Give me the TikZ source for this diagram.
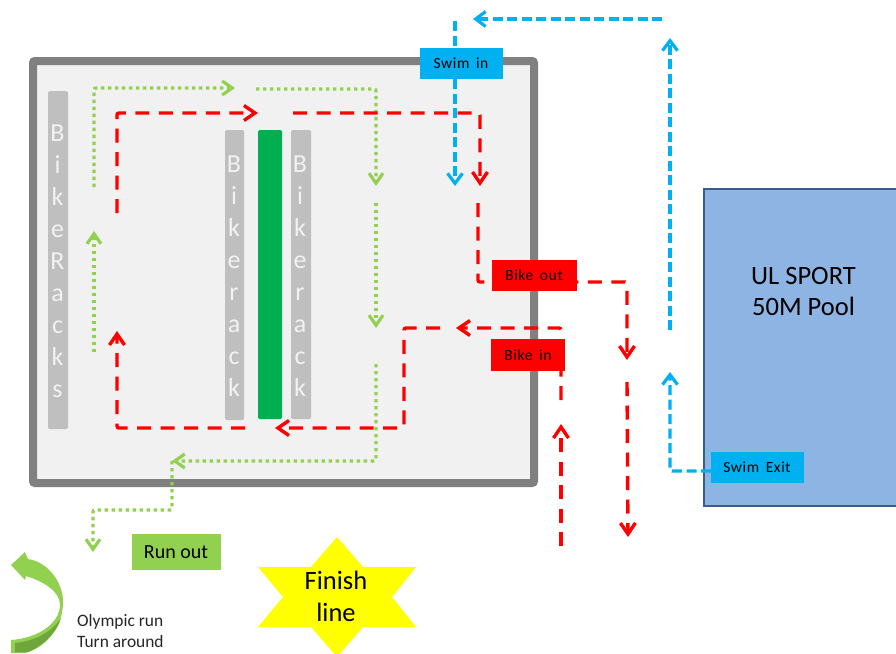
\documentclass[tikz,border=0pt]{standalone}
\usepackage{fontspec}
\setmainfont{Carlito}
\newfontfamily\lblf[LetterSpace=4,WordSpace=1.6]{Carlito}
\usetikzlibrary{arrows.meta}
\definecolor{lgreen}{HTML}{92D050}
\definecolor{dgreen}{HTML}{00B050}
\definecolor{sblue}{HTML}{00B0F0}
\definecolor{pool}{HTML}{8EB4E3}
\definecolor{poolb}{HTML}{385D8A}
\definecolor{rackc}{HTML}{BFBFBF}
\definecolor{arrowdark}{HTML}{6FA63C}
\definecolor{pyellow}{HTML}{FFFF00}
\definecolor{pred}{HTML}{FF0000}
\definecolor{inktext}{HTML}{262626}
\tikzset{
  x=1pt,y=-1pt,
  lbl/.style={inner sep=0pt,minimum height=31pt,anchor=center,text=black,align=center},
  smalllbl/.style={lbl,font=\lblf\fontsize{15.5}{17}\selectfont},
  rack/.style={fill=rackc,rounded corners=1.5pt},
  racktext/.style={text=white!95!black,font=\fontsize{26}{32}\selectfont,align=center,inner sep=0pt},
  gpath/.style={draw=lgreen,line width=3.4pt,dash pattern=on 3.4pt off 3.6pt,-{Straight Barb[length=10pt,width=14pt,line width=3.2pt]},rounded corners=2pt},
  rpath/.style={draw=pred,line width=3.4pt,dash pattern=on 14pt off 9.5pt,-{Straight Barb[length=11pt,width=15pt,line width=3.4pt]},rounded corners=2pt},
  bpath/.style={draw=sblue,line width=3.4pt,dash pattern=on 10pt off 4.5pt,-{Straight Barb[length=10pt,width=15pt,line width=3.2pt]},rounded corners=2pt},
}
\begin{document}
\begin{tikzpicture}
\useasboundingbox (0,0) rectangle (896,653);
\fill[white] (0,0) rectangle (896,653);
% enclosure
\draw[fill=black!5.5,line width=8pt,rounded corners=2pt,draw=black!50] (33,61) rectangle (534,483);
% racks
\fill[rack] (48,91) rectangle (68,429);
\fill[rack] (225,130) rectangle (244,420);
\fill[dgreen,rounded corners=1.5pt] (258,130) rectangle (282,419);
\fill[rack] (291,130) rectangle (311,419);
\node[racktext] (r1) at (57.5,261) {B\\i\\k\\e\\R\\a\\c\\k\\s};
\node[racktext] (r2) at (234,276) {B\\i\\k\\e\\r\\a\\c\\k};
\node[racktext] (r3) at (300,276) {B\\i\\k\\e\\r\\a\\c\\k};
% pool
\node[draw=poolb,fill=pool,line width=2pt,minimum width=194pt,minimum height=317pt,inner sep=0pt] (poolbox) at (801,347) {};
\node[font=\fontsize{26.5}{31}\selectfont,align=center,inner sep=0pt] (pooltxt) at (803.5,291) {UL SPORT\\50M Pool};
% coordinates
\coordinate (g1) at (94,352); \coordinate (g1e) at (94,231);
\coordinate (g2) at (94,187); \coordinate (g2a) at (94,88); \coordinate (g2e) at (235,88);
\coordinate (g3) at (256,89); \coordinate (g3a) at (376,89); \coordinate (g3e) at (376,186);
\coordinate (g4) at (376,203); \coordinate (g4e) at (376,328);
\coordinate (g5) at (376,364); \coordinate (g5a) at (376,461); \coordinate (g5e) at (172,461);
\coordinate (g6a) at (172,510); \coordinate (g6b) at (93,510); \coordinate (g6e) at (93,552);
\coordinate (r1s) at (117,213); \coordinate (r1a) at (117,113); \coordinate (r1e) at (258,113);
\coordinate (r2s) at (293,113); \coordinate (r2a) at (480,113); \coordinate (r2e) at (480,186);
\coordinate (r3s) at (478,203); \coordinate (r3a) at (478,282); \coordinate (r3b) at (627,282); \coordinate (r3e) at (627,360);
\coordinate (r4s) at (627,382); \coordinate (r4e) at (628,537);
\coordinate (r5s) at (561,546); \coordinate (r5e) at (561,424);
\coordinate (r6s) at (561,400); \coordinate (r6a) at (561,328); \coordinate (r6e) at (456,328);
\coordinate (r7s) at (440,328); \coordinate (r7a) at (404,328); \coordinate (r7b) at (404,428); \coordinate (r7e) at (275,428);
\coordinate (r8s) at (245,428); \coordinate (r8a) at (117,428); \coordinate (r8e) at (117,331);
\coordinate (b1s) at (662,19); \coordinate (b1e) at (473,19);
\coordinate (b2s) at (455,21); \coordinate (b2e) at (455,186);
\coordinate (b3s) at (670,330); \coordinate (b3e) at (670,38);
\coordinate (b4s) at (711,471); \coordinate (b4a) at (670,471); \coordinate (b4e) at (670,372);
% connectors
\draw[gpath] (g1) -- (g1e);
\draw[gpath] (g2) -- (g2a) -- (g2e);
\draw[gpath] (g3) -- (g3a) -- (g3e);
\draw[gpath] (g4) -- (g4e);
\draw[gpath] (g5) -- (g5a) -- (g5e);
\draw[gpath] (g5e) -- (g6a) -- (g6b) -- (g6e);
\draw[rpath] (r1s) -- (r1a) -- (r1e);
\draw[rpath] (r2s) -- (r2a) -- (r2e);
\draw[rpath] (r3s) -- (r3a) -- (r3b) -- (r3e);
\draw[rpath] (r4s) -- (r4e);
\draw[rpath] (r5s) -- (r5e);
\draw[rpath] (r6s) -- (r6a) -- (r6e);
\draw[rpath] (r7s) -- (r7a) -- (r7b) -- (r7e);
\draw[rpath] (r8s) -- (r8a) -- (r8e);
\draw[bpath] (b1s) -- (b1e);
\draw[bpath] (b2s) -- (b2e);
\draw[bpath] (b3s) -- (b3e);
\draw[bpath] (b4s) -- (b4a) -- (b4e);
% labels
\node[smalllbl,fill=sblue,minimum width=83pt] (swimin) at (461,63) {Swim in};
\node[smalllbl,fill=pred,minimum width=85pt] (bikeout) at (534,275) {Bike out};
\node[smalllbl,fill=pred,minimum width=74pt,minimum height=32pt] (bikein) at (528,355) {Bike in};
\node[smalllbl,fill=sblue,minimum width=93pt] (swimexit) at (757,467) {Swim Exit};
\node[lbl,fill=lgreen,minimum width=89pt,minimum height=36pt,font=\fontsize{20}{22}\selectfont] (runout) at (176,552) {Run out};
% star
\fill[pyellow] (337,537) -- (363,567) -- (416,567) -- (392,597) -- (416,627) -- (363,627) -- (337,657) -- (311,627) -- (258,627) -- (283,597) -- (258,567) -- (311,567) -- cycle;
\node[font=\fontsize{26.5}{32}\selectfont,align=center,inner sep=0pt] (finish) at (336,596) {Finish\\line};
% turn arrow
\fill[lgreen] (25,552) -- (11,565) -- (25,580) -- (26,576) .. controls (45,582) and (60,592) .. (60,605) .. controls (60,622) and (40,638) .. (11,640) -- (11,653) -- (25,653) .. controls (45,648) and (63,628) .. (63,602) .. controls (63,582) and (48,562) .. (28,559) -- cycle;
\fill[arrowdark] (15,643) .. controls (35,641) and (52,632) .. (61,618) .. controls (58,630) and (45,645) .. (28,652) -- (15,652) -- cycle;
\node[font=\fontsize{17.4}{21}\selectfont,align=left,inner sep=0pt,anchor=west,text=inktext] (turn) at (77,631) {Olympic run\\Turn around};
\end{tikzpicture}
\end{document}
